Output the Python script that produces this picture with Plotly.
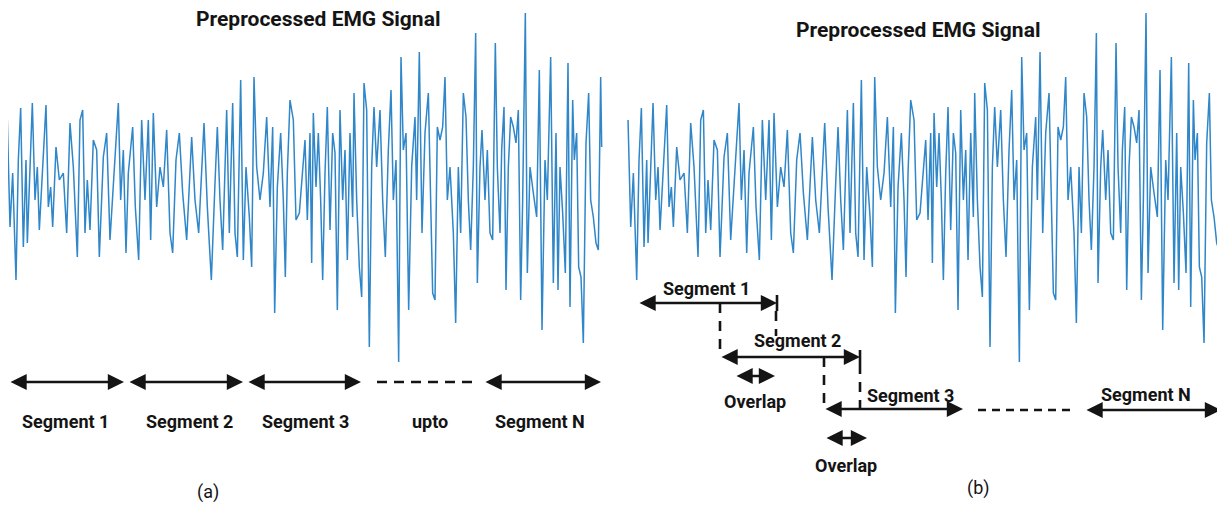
import plotly.graph_objects as go

# ---------------- data ----------------
emg_time_ms = [
    22, 30, 38, 48, 55, 62, 70, 78, 82, 97, 105, 112, 118, 128, 138, 145, 152, 158, 168, 178,
    190, 200, 210, 220, 232, 240, 248, 255, 262, 270, 280, 290, 298, 310, 320, 330, 342, 355, 362, 370,
    378, 385, 398, 406, 416, 425, 435, 445, 452, 460, 470, 480, 490, 500, 510, 518, 528, 538, 548, 560,
    575, 585, 596, 605, 612, 622, 634, 645, 652, 660, 668, 680, 688, 698, 705, 712, 722, 730, 738, 748,
    755, 762, 770, 780, 790, 800, 810, 818, 824, 832, 842, 850, 856, 862, 870, 880, 888, 898,
    915, 922, 930, 935, 940, 948, 955, 962, 968, 975, 982, 990, 998, 1005, 1012, 1020, 1028, 1035, 1042, 1050,
    1058, 1062, 1070, 1078, 1085, 1092, 1100, 1108, 1115, 1122, 1130, 1140, 1148, 1156, 1165, 1173, 1180, 1188, 1196, 1203,
    1210, 1218, 1226, 1235, 1245, 1250, 1258, 1266, 1275, 1285, 1290, 1298, 1305, 1312, 1320, 1328, 1335, 1342, 1350, 1360,
    1367, 1375, 1382, 1390, 1398, 1405, 1412, 1420, 1427, 1432, 1440, 1446, 1455, 1462, 1470, 1478, 1486, 1492, 1500, 1505,
    1512, 1518, 1525, 1532, 1540, 1548, 1555, 1562, 1568, 1576, 1582, 1590, 1600, 1610, 1618, 1626, 1635, 1642, 1652, 1660,
    1668, 1674, 1680, 1688, 1696, 1704, 1710, 1718, 1723, 1730, 1736, 1743, 1750, 1758, 1766, 1772, 1780, 1788, 1795, 1802,
    1805,
]
emg_amplitude_mv = [
    0.70, -0.37, 0.17, -0.90, 0.30, 0.82, -0.57, 0.30, -0.53, 0.87, -0.10, 0.23, -0.40, 0.30, 0.85, -0.17, 0.03, -0.37, 0.43, 0.10,
    0.17, -0.43, 0.67, 0.23, -0.67, 0.70, 0.80, -0.43, 0.10, -0.40, 0.50, 0.40, -0.67, 0.33, 0.57, -0.50, 0.17, 0.87, -0.10, 0.40,
    -0.63, 0.17, 0.63, -0.17, -0.70, 0.70, -0.10, 0.70, -0.50, 0.77, -0.17, 0.23, 0.03, 0.60, -0.43, -0.63, 0.30, 0.57, -0.03, -0.50,
    0.53, -0.10, -0.43, 0.23, 0.67, -0.17, -0.90, 0.07, 0.63, -0.10, -0.60, 0.80, -0.43, 0.87, -0.43, -0.67, 1.10, -0.70, 0.23, -0.27,
    -0.77, 1.13, 0.23, -0.10, 0.17, 0.73, -0.17, 0.63, -1.23, 0.03, 0.57, -0.10, -0.87, 0.17, 0.90, 0.70, -0.30, -0.23,
    0.50, -0.30, 0.57, -0.73, 0.77, 0.03, 0.57, -0.10, -0.90, 0.17, 0.83, -0.40, 0.57, 0.37, -1.20, 0.80, -0.10, 0.40, -0.70, 0.57,
    -0.27, 0.97, -0.10, -0.77, -1.07, 1.07, 0.80, -1.57, 0.23, 0.83, 0.23, 0.80, -0.10, -0.67, 0.40, 1.00, -0.10, 0.30, -1.72, 1.33,
    0.40, 0.57, -1.20, 0.23, 0.73, -0.10, 1.38, -0.43, 0.57, 0.97, 0.07, -1.03, -1.10, 0.63, 0.50, 0.63, 1.13, -0.10, 0.23, -0.43,
    -1.33, 0.23, -0.43, 0.97, 0.73, -0.10, -0.60, 0.23, 1.57, -0.93, 0.23, 0.60, -0.10, 0.40, -0.43, -0.50, 1.47, 0.23, -0.43, 0.40,
    0.83, -1.00, 0.23, 0.73, 0.63, 0.47, 0.80, -1.10, -0.10, 1.77, -0.83, 0.23, -0.03, -0.27, 1.20, -1.40, 0.30, -0.10, 1.33, -0.93,
    0.57, -1.00, 0.23, -0.23, -0.83, 1.27, -1.17, 0.90, 0.30, 0.57, -0.77, -0.87, -1.53, 0.47, 0.97, -0.10, -0.27, -0.53, -0.60, 1.13,
    0.43,
]

title_text = "Preprocessed EMG Signal"
labels_a = ["Segment 1", "Segment 2", "Segment 3", "upto", "Segment N"]
labels_b = ["Segment 1", "Segment 2", "Segment 3", "Segment N"]
overlap_text = "Overlap"

# ---------------- layout helpers ----------------
W, H = 1225, 507          # reference canvas
OFF = 8                   # page body margin of the html page
WF, HF = W - OFF, H - OFF  # figure size so it fits the window
FONT = "Roboto, 'Liberation Sans', Arial, sans-serif"
INK = "#141414"
SIG = "#2f86c8"


def px(x, y):
    """reference pixel -> paper coords of the figure"""
    return (x - OFF) / WF, 1 - (y - OFF) / HF


fig = go.Figure()
fig.add_trace(go.Scatter(x=emg_time_ms, y=emg_amplitude_mv, mode="lines",
                         line=dict(color=SIG, width=1.5), xaxis="x", yaxis="y",
                         showlegend=False, hoverinfo="skip"))
fig.add_trace(go.Scatter(x=emg_time_ms, y=emg_amplitude_mv, mode="lines",
                         line=dict(color=SIG, width=1.5), xaxis="x2", yaxis="y2",
                         showlegend=False, hoverinfo="skip"))

annotations = []
shapes = []


def text(s, x, y, size=18, bold=True):
    X, Y = px(x, y)
    annotations.append(dict(text=f"<b>{s}</b>" if bold else s, x=X, y=Y, xref="paper", yref="paper",
                            xanchor="center", yanchor="middle", showarrow=False,
                            font=dict(family=FONT, size=size, color=INK)))


def arrow(x1, x2, y):
    X, Y = px(x2, y)
    annotations.append(dict(text="", x=X, y=Y, xref="paper", yref="paper",
                            ax=x1 - x2, ay=0, axref="pixel", ayref="pixel",
                            showarrow=True, arrowside="end+start",
                            arrowhead=2, startarrowhead=2, arrowsize=1.2, startarrowsize=1.2,
                            arrowwidth=2.7, arrowcolor=INK, standoff=0, startstandoff=0))


def seg_line(x1, y1, x2, y2, dash="solid", width=2.6):
    X1, Y1 = px(x1, y1)
    X2, Y2 = px(x2, y2)
    shapes.append(dict(type="line", xref="paper", yref="paper", x0=X1, y0=Y1, x1=X2, y1=Y2,
                       line=dict(color=INK, width=width, dash=dash)))


# ---- panel (a) ----
text(title_text, 318, 19, size=21)
row_a = 382
for (x1, x2) in [(9, 124), (128, 243), (247, 361), (484, 601)]:
    arrow(x1, x2, row_a)
seg_line(377, row_a, 472, row_a, dash="10px,7px")
for lab, xc in zip(labels_a, [66, 189, 305, 430, 540]):
    text(lab, xc, 421)
text("(a)", 208, 492, size=18, bold=False)

# ---- panel (b) ----
text(title_text, 918, 30, size=21)
# Segment 1
arrow(638, 777, 303)
seg_line(777, 295, 777, 311)
text(labels_b[0], 706, 288)
# Segment 2
seg_line(720, 303, 720, 357, dash="10px,8px")
seg_line(776, 311, 776, 336, dash="10px,8px")
arrow(720, 860, 357)
seg_line(860, 350, 860, 364)
text(labels_b[1], 797, 340)
arrow(735, 775, 376)
text(overlap_text, 755, 401)
# Segment 3
seg_line(824, 357, 824, 410, dash="10px,8px")
seg_line(860, 364, 860, 410, dash="10px,8px")
arrow(824, 963, 409)
text(labels_b[2], 910, 395)
arrow(825, 867, 438)
text(overlap_text, 846, 465)
# dashes + Segment N
seg_line(978, 410, 1072, 410, dash="8px,6px")
arrow(1085, 1221, 410)
text(labels_b[3], 1146, 394)
text("(b)", 978, 488, size=18, bold=False)

# axes mapping (reference pixels): t = 3 * x for panel a ; t = 3 * (x - 620.7) for panel b
# amplitude = (190 - y) / 100
yr = [(190 - H) / 100, (190 - OFF) / 100]
xa0, xa1 = px(OFF, 0)[0], px(612, 0)[0]
xb0 = px(620.7, 0)[0]
fig.update_layout(
    width=WF, height=HF, margin=dict(l=0, r=0, t=0, b=0),
    paper_bgcolor="white", plot_bgcolor="white",
    xaxis=dict(domain=[xa0, xa1], range=[3 * OFF, 3 * 612], visible=False),
    yaxis=dict(domain=[0, 1], range=yr, visible=False),
    xaxis2=dict(domain=[xb0, 1], range=[0, (W - 620.7) * 3], visible=False),
    yaxis2=dict(domain=[0, 1], range=yr, visible=False, anchor="x2"),
    annotations=annotations, shapes=shapes,
)

fig.write_html("out.html")
